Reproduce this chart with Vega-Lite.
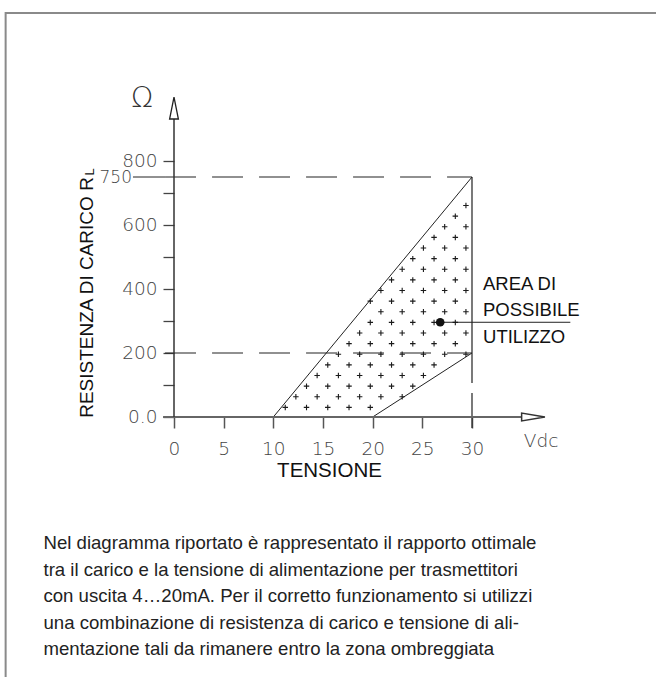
{
  "$schema": "https://vega.github.io/schema/vega-lite/v6.json",
  "width": 298,
  "height": 256,
  "autosize": {"type": "none"},
  "padding": {"left": 174, "top": 161, "right": 184, "bottom": 260},
  "background": "white",
  "config": {"view": {"stroke": null}},
  "datasets": {
    "border": [{"x": -16.95, "y": 1262.5, "x2": 60, "y2": -1000}],
    "dashed": [
      {"x": -0.9, "y": 750, "x2": 30, "y2": 750},
      {"x": -0.9, "y": 200, "x2": 30, "y2": 200}
    ],
    "vertical": [{"x": 30, "y": 750, "x2": 30, "y2": -34.4}],
    "solid": [
      {"x": 10, "y": 0, "x2": 30, "y2": 750},
      {"x": 20, "y": 0, "x2": 30, "y2": 200},
      {"x": -4.13, "y": 750, "x2": -0.9, "y2": 750},
      {"x": 26.8, "y": 296, "x2": 39.9, "y2": 296}
    ],
    "axes": [
      {"x": -1.1, "y": 0, "x2": 35.05, "y2": 0, "c": "x"},
      {"x": 0, "y": 0, "x2": 0, "y2": 931, "c": "y"}
    ],
    "plus": [
      {"x": 11.2, "y": 30}, {"x": 13.34, "y": 30}, {"x": 15.48, "y": 30}, {"x": 17.62, "y": 30}, {"x": 19.76, "y": 30},
      {"x": 12.27, "y": 63.2}, {"x": 14.41, "y": 63.2}, {"x": 16.55, "y": 63.2}, {"x": 18.69, "y": 63.2}, {"x": 20.83, "y": 63.2}, {"x": 22.97, "y": 63.2},
      {"x": 13.34, "y": 96.4}, {"x": 15.48, "y": 96.4}, {"x": 17.62, "y": 96.4}, {"x": 19.76, "y": 96.4}, {"x": 21.9, "y": 96.4}, {"x": 24.04, "y": 96.4},
      {"x": 14.41, "y": 129.6}, {"x": 16.55, "y": 129.6}, {"x": 18.69, "y": 129.6}, {"x": 20.83, "y": 129.6}, {"x": 22.97, "y": 129.6}, {"x": 25.11, "y": 129.6},
      {"x": 15.48, "y": 162.8}, {"x": 17.62, "y": 162.8}, {"x": 19.76, "y": 162.8}, {"x": 21.9, "y": 162.8}, {"x": 24.04, "y": 162.8}, {"x": 26.18, "y": 162.8},
      {"x": 16.55, "y": 196}, {"x": 18.69, "y": 196}, {"x": 20.83, "y": 196}, {"x": 22.97, "y": 196}, {"x": 25.11, "y": 196}, {"x": 27.25, "y": 196}, {"x": 29.39, "y": 196},
      {"x": 17.62, "y": 229.2}, {"x": 19.76, "y": 229.2}, {"x": 21.9, "y": 229.2}, {"x": 24.04, "y": 229.2}, {"x": 26.18, "y": 229.2}, {"x": 28.32, "y": 229.2},
      {"x": 18.69, "y": 262.4}, {"x": 20.83, "y": 262.4}, {"x": 22.97, "y": 262.4}, {"x": 25.11, "y": 262.4}, {"x": 27.25, "y": 262.4}, {"x": 29.39, "y": 262.4},
      {"x": 19.76, "y": 295.6}, {"x": 21.9, "y": 295.6}, {"x": 24.04, "y": 295.6}, {"x": 26.18, "y": 295.6}, {"x": 28.32, "y": 295.6},
      {"x": 20.83, "y": 328.8}, {"x": 22.97, "y": 328.8}, {"x": 25.11, "y": 328.8}, {"x": 27.25, "y": 328.8}, {"x": 29.39, "y": 328.8},
      {"x": 19.76, "y": 362}, {"x": 21.9, "y": 362}, {"x": 24.04, "y": 362}, {"x": 26.18, "y": 362}, {"x": 28.32, "y": 362},
      {"x": 20.83, "y": 395.2}, {"x": 22.97, "y": 395.2}, {"x": 25.11, "y": 395.2}, {"x": 27.25, "y": 395.2}, {"x": 29.39, "y": 395.2},
      {"x": 21.9, "y": 428.4}, {"x": 24.04, "y": 428.4}, {"x": 26.18, "y": 428.4}, {"x": 28.32, "y": 428.4},
      {"x": 22.97, "y": 461.6}, {"x": 25.11, "y": 461.6}, {"x": 27.25, "y": 461.6}, {"x": 29.39, "y": 461.6},
      {"x": 24.04, "y": 494.8}, {"x": 26.18, "y": 494.8}, {"x": 28.32, "y": 494.8},
      {"x": 25.11, "y": 528}, {"x": 27.25, "y": 528}, {"x": 29.39, "y": 528},
      {"x": 26.18, "y": 561.2}, {"x": 28.32, "y": 561.2},
      {"x": 27.25, "y": 594.4}, {"x": 29.39, "y": 594.4},
      {"x": 28.32, "y": 627.6},
      {"x": 29.39, "y": 660.8}
    ],
    "dot": [{"x": 26.8, "y": 296}],
    "arrowUp": [{"x": 0, "y": 965.6}],
    "arrowRight": [{"x": 36.17, "y": 0}],
    "omega": [{"x": -3.22, "y": 969.7, "t": "Ω"}],
    "lab750": [{"x": -4.23, "y": 732, "t": "750"}],
    "vdc": [{"x": 36.95, "y": -92.8, "t": "Vdc"}],
    "sub": [{"x": -8.46, "y": 765.6, "t": "L"}],
    "area": [{"x": 31.11, "y": 396.9, "t": "AREA DI\nPOSSIBILE\nUTILIZZO"}],
    "para": [{"x": -13.14, "y": -412.5, "t": "Nel diagramma riportato è rappresentato il rapporto ottimale\ntra il carico e la tensione di alimentazione per trasmettitori\ncon uscita 4…20mA. Per il corretto funzionamento si utilizzi\nuna combinazione di resistenza di carico e tensione di ali-\nmentazione tali da rimanere entro la zona ombreggiata"}]
  },
  "encoding": {
    "x": {
      "field": "x", "type": "quantitative",
      "scale": {"domain": [0, 30], "nice": false, "zero": false},
      "axis": {
        "values": [0, 5, 10, 15, 20, 25, 30],
        "domain": false, "grid": false,
        "tickSize": 11, "tickColor": "#555", "tickWidth": 1.5,
        "labelFont": "DejaVu Sans", "labelFontWeight": 200, "labelFontSize": 18.5,
        "labelColor": "#444", "labelPadding": 11, "labelFlush": false, "labelOverlap": false,
        "title": "TENSIONE", "titleFont": "Liberation Sans", "titleFontSize": 20.5,
        "titleFontWeight": "normal", "titleColor": "#111",
        "titleX": 155, "titleY": 59, "titleBaseline": "alphabetic", "titleAlign": "center"
      }
    },
    "y": {
      "field": "y", "type": "quantitative",
      "scale": {"domain": [0, 800], "nice": false, "zero": false},
      "axis": {
        "values": [0, 100, 200, 300, 400, 500, 600, 700, 800],
        "domain": false, "grid": false,
        "tickSize": 11, "tickColor": "#444", "tickWidth": 1.3,
        "labelExpr": "datum.value == 0 ? '0.0' : (datum.value % 200 == 0 ? datum.label : '')",
        "labelFont": "DejaVu Sans", "labelFontWeight": 200, "labelFontSize": 18.5,
        "labelColor": "#444", "labelPadding": 6, "labelFlush": false, "labelOverlap": false,
        "labelOffset": -1,
        "title": "RESISTENZA DI CARICO R", "titleFont": "Liberation Sans", "titleFontSize": 19,
        "titleFontWeight": "normal", "titleColor": "#111",
        "titleX": -88, "titleY": 136, "titleAngle": 270, "titleAlign": "center", "titleBaseline": "middle"
      }
    }
  },
  "layer": [
    {
      "data": {"name": "border"},
      "mark": {"type": "rect", "fillOpacity": 0, "stroke": "#8a8a8a", "strokeWidth": 2},
      "encoding": {"x2": {"field": "x2"}, "y2": {"field": "y2"}}
    },
    {
      "data": {"name": "dashed"},
      "mark": {"type": "rule", "color": "#222", "strokeWidth": 1.2, "strokeDash": [31, 16]},
      "encoding": {"x2": {"field": "x2"}, "y2": {"field": "y2"}}
    },
    {
      "data": {"name": "vertical"},
      "mark": {"type": "rule", "color": "#333", "strokeWidth": 1.3, "strokeDash": [206, 10, 60, 10]},
      "encoding": {"x2": {"field": "x2"}, "y2": {"field": "y2"}}
    },
    {
      "data": {"name": "solid"},
      "mark": {"type": "rule", "color": "#222", "strokeWidth": 1},
      "encoding": {"x2": {"field": "x2"}, "y2": {"field": "y2"}}
    },
    {
      "data": {"name": "axes"},
      "transform": [{"filter": "datum.c == 'x'"}],
      "mark": {"type": "rule", "color": "#666", "strokeWidth": 2},
      "encoding": {"x2": {"field": "x2"}, "y2": {"field": "y2"}}
    },
    {
      "data": {"name": "axes"},
      "transform": [{"filter": "datum.c == 'y'"}],
      "mark": {"type": "rule", "color": "#333", "strokeWidth": 1.5},
      "encoding": {"x2": {"field": "x2"}, "y2": {"field": "y2"}}
    },
    {
      "data": {"name": "plus"},
      "mark": {"type": "point", "shape": "M-1,0L1,0M0,-1L0,1", "filled": false, "stroke": "#1a1a1a", "strokeWidth": 1.1, "size": 30, "opacity": 1}
    },
    {
      "data": {"name": "dot"},
      "mark": {"type": "circle", "color": "#111", "size": 75, "opacity": 1}
    },
    {
      "data": {"name": "arrowUp"},
      "mark": {"type": "point", "shape": "M0,-1L0.4,1L-0.4,1Z", "filled": true, "fill": "white", "stroke": "#222", "strokeWidth": 1.3, "size": 484, "opacity": 1}
    },
    {
      "data": {"name": "arrowRight"},
      "mark": {"type": "point", "shape": "M1,0L-1,-0.34L-1,0.34Z", "filled": true, "fill": "white", "stroke": "#333", "strokeWidth": 1.5, "size": 543, "opacity": 1}
    },
    {
      "data": {"name": "omega"},
      "mark": {"type": "text", "font": "DejaVu Sans", "fontWeight": 200, "fontSize": 29, "color": "#333", "align": "center", "baseline": "alphabetic"},
      "encoding": {"text": {"field": "t"}}
    },
    {
      "data": {"name": "lab750"},
      "mark": {"type": "text", "font": "DejaVu Sans", "fontWeight": 200, "fontSize": 17, "color": "#444", "align": "right", "baseline": "alphabetic"},
      "encoding": {"text": {"field": "t"}}
    },
    {
      "data": {"name": "vdc"},
      "mark": {"type": "text", "font": "DejaVu Sans", "fontWeight": 200, "fontSize": 18.5, "color": "#444", "align": "center", "baseline": "alphabetic"},
      "encoding": {"text": {"field": "t"}}
    },
    {
      "data": {"name": "sub"},
      "mark": {"type": "text", "font": "Liberation Sans", "fontSize": 13, "color": "#111", "align": "center", "baseline": "middle", "angle": 270},
      "encoding": {"text": {"field": "t"}}
    },
    {
      "data": {"name": "area"},
      "mark": {"type": "text", "font": "Liberation Sans", "fontSize": 18.5, "color": "#111", "align": "left", "baseline": "alphabetic", "lineBreak": "\n", "lineHeight": 26.5},
      "encoding": {"text": {"field": "t"}}
    },
    {
      "data": {"name": "para"},
      "mark": {"type": "text", "font": "Liberation Sans", "fontSize": 18.6, "color": "#222", "align": "left", "baseline": "alphabetic", "lineBreak": "\n", "lineHeight": 26.6},
      "encoding": {"text": {"field": "t"}}
    }
  ]
}
